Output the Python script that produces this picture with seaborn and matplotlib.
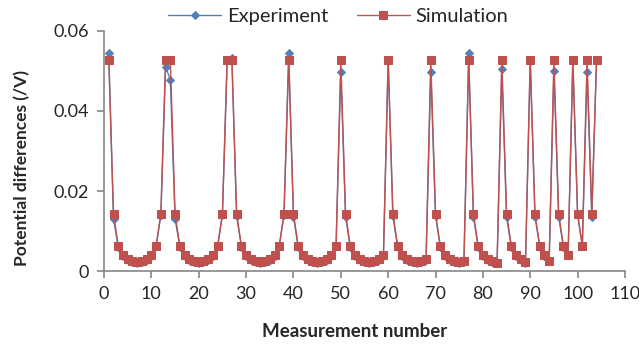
import numpy as np
import pandas as pd
import matplotlib
matplotlib.use("Agg")
import matplotlib.pyplot as plt
import seaborn as sns

# measurement numbers 1..104 (16-electrode adjacent drive, reciprocals removed)
measurement = list(range(1, 105))

simulation = [
    # drive 1
    0.0527, 0.0143, 0.0063, 0.0039, 0.0029, 0.0024, 0.0022, 0.0024, 0.0029, 0.0039, 0.0063, 0.0143, 0.0527,
    # drive 2
    0.0527, 0.0143, 0.0063, 0.0039, 0.0029, 0.0024, 0.0022, 0.0024, 0.0029, 0.0039, 0.0063, 0.0143, 0.0527,
    # drive 3
    0.0527, 0.0143, 0.0063, 0.0039, 0.0029, 0.0024, 0.0022, 0.0024, 0.0029, 0.0039, 0.0063, 0.0143,
    # drive 4
    0.0527, 0.0143, 0.0063, 0.0039, 0.0029, 0.0024, 0.0022, 0.0024, 0.0029, 0.0039, 0.0063,
    # drive 5
    0.0527, 0.0143, 0.0063, 0.0039, 0.0029, 0.0024, 0.0022, 0.0024, 0.0029, 0.0039,
    # drive 6
    0.0527, 0.0143, 0.0063, 0.0039, 0.0029, 0.0024, 0.0022, 0.0024, 0.0029,
    # drive 7
    0.0527, 0.0143, 0.0063, 0.0039, 0.0029, 0.0024, 0.0022, 0.0024,
    # drive 8
    0.0527, 0.0143, 0.0063, 0.0039, 0.0029, 0.0024, 0.0021,
    # drive 9
    0.0527, 0.0143, 0.0063, 0.0039, 0.0029, 0.0022,
    # drive 10
    0.0527, 0.0143, 0.0063, 0.0039, 0.0026,
    # drive 11
    0.0527, 0.0143, 0.0063, 0.0040,
    # drive 12
    0.0527, 0.0143, 0.0063,
    # drive 13
    0.0527, 0.0143,
    # drive 14
    0.0527,
]

experiment = [
    0.0546, 0.0130, 0.0060, 0.0037, 0.0028, 0.0023, 0.0021, 0.0023, 0.0028, 0.0038, 0.0062, 0.0140, 0.0511,
    0.0478, 0.0130, 0.0061, 0.0038, 0.0028, 0.0023, 0.0021, 0.0023, 0.0028, 0.0038, 0.0062, 0.0140, 0.0527,
    0.0532, 0.0138, 0.0061, 0.0038, 0.0028, 0.0023, 0.0021, 0.0023, 0.0028, 0.0038, 0.0062, 0.0140,
    0.0544, 0.0136, 0.0060, 0.0038, 0.0028, 0.0023, 0.0021, 0.0023, 0.0028, 0.0038, 0.0062,
    0.0498, 0.0136, 0.0060, 0.0038, 0.0028, 0.0023, 0.0021, 0.0023, 0.0028, 0.0038,
    0.0527, 0.0137, 0.0060, 0.0038, 0.0028, 0.0023, 0.0021, 0.0023, 0.0028,
    0.0498, 0.0138, 0.0061, 0.0038, 0.0028, 0.0023, 0.0021, 0.0023,
    0.0544, 0.0136, 0.0060, 0.0038, 0.0028, 0.0023, 0.0019,
    0.0504, 0.0135, 0.0060, 0.0038, 0.0028, 0.0020,
    0.0526, 0.0136, 0.0061, 0.0038, 0.0025,
    0.0501, 0.0136, 0.0061, 0.0039,
    0.0527, 0.0140, 0.0062,
    0.0498, 0.0136,
    0.0527,
]

x_ticks = list(range(0, 111, 10))
y_ticks = [0, 0.02, 0.04, 0.06]
y_tick_labels = ["0", "0.02", "0.04", "0.06"]

df = pd.DataFrame({"Measurement": measurement, "Experiment": experiment, "Simulation": simulation})

sns.set_style("ticks")
plt.rcParams["font.family"] = ["Lato", "DejaVu Sans"]

fig = plt.figure(figsize=(6.39, 3.47), dpi=100)
ax = fig.add_axes([0.1628, 0.219, 0.8152, 0.6917])

blue = "#4F81BD"
red = "#C0504D"

sns.lineplot(data=df, x="Measurement", y="Experiment", ax=ax, color=blue, linewidth=1.0,
             marker="D", markersize=4.5, markeredgecolor=blue, markerfacecolor=blue,
             label="Experiment", zorder=2)
sns.lineplot(data=df, x="Measurement", y="Simulation", ax=ax, color=red, linewidth=1.0,
             marker="s", markersize=6, markeredgecolor=red, markerfacecolor=red,
             label="Simulation", zorder=3)

ax.set_xlim(0, 110)
ax.set_ylim(0, 0.06)
ax.set_xticks(x_ticks)
ax.set_yticks(y_ticks)
ax.set_yticklabels(y_tick_labels)
ax.tick_params(axis="both", labelsize=13, length=5, width=1.2, color="#868686", direction="out", pad=6)

sns.despine(ax=ax)
for side in ["left", "bottom"]:
    ax.spines[side].set_color("#868686")
    ax.spines[side].set_linewidth(1.2)

ax.set_xlabel("Measurement number", fontsize=13.5, fontweight="bold")
ax.set_ylabel("Potential differences (/V)", fontsize=12.5, fontweight="bold")
ax.xaxis.set_label_coords(0.482, -0.215)
ax.yaxis.set_label_coords(-0.142, 0.43)

ax.legend(loc="center", bbox_to_anchor=(0.45, 1.06), ncol=2, frameon=False,
          fontsize=14.5, handlelength=2.6, columnspacing=1.45, handletextpad=0.3, borderaxespad=0)

plt.savefig("out.png", dpi=100)
plt.close()
